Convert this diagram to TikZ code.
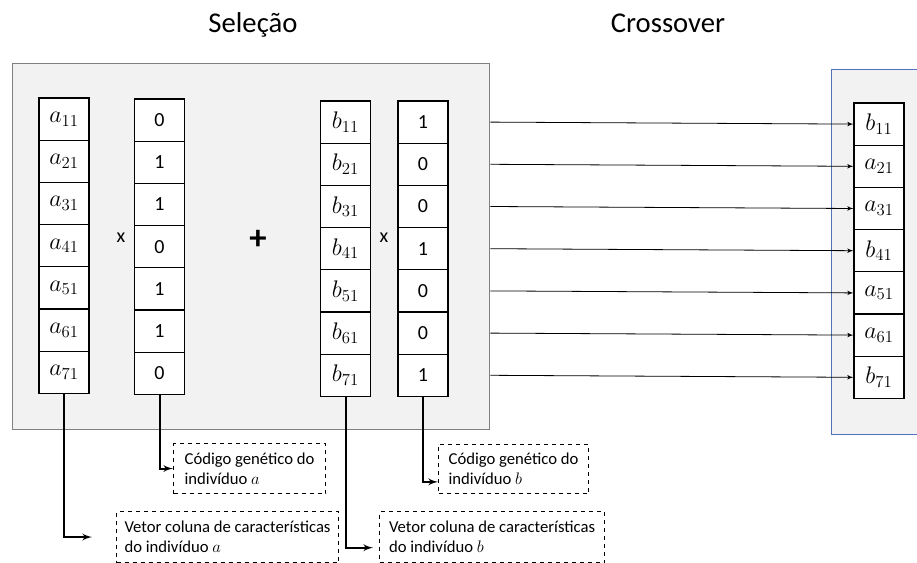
\documentclass[tikz,border=0pt]{standalone}
\usepackage{fix-cm}
\usepackage{fontspec}
\setmainfont{Carlito}
\usetikzlibrary{arrows}
\definecolor{boxfill}{HTML}{F2F2F2}
\definecolor{boxgray}{HTML}{808080}
\definecolor{boxblue}{HTML}{4F72B8}
\tikzset{
    cell/.style={draw, fill=white, line width=0.8pt, minimum width=37.5pt, minimum height=31.65pt, inner sep=0pt},
    var/.style={cell, font=\fontsize{18}{21}\selectfont},
    bit/.style={cell, font=\fontsize{15}{18}\selectfont},
    panel/.style={draw=boxgray, fill=boxfill, line width=1.1pt, anchor=north west},
    note/.style={draw, dashed, line width=0.8pt, align=left, inner sep=0pt, anchor=north west, font=\fontsize{12.5}{15}\selectfont},
    link/.style={->,> = latex', line width=1.5pt},
    pass/.style={->,> = latex', line width=0.6pt},
    title/.style={anchor=base, font=\fontsize{21.5}{26}\selectfont},
    sign/.style={font=\fontsize{15}{18}\selectfont},
}

\begin{document}
\begin{tikzpicture}[x=0.75pt, y=-0.75pt]
    \useasboundingbox (0,0) rectangle (917,563);
    \node[title] (selecao) at (253,33) {Seleção};
    \node[title] (crossover) at (668,33) {Crossover};
    \node[panel, minimum width=357.75pt, minimum height=274.5pt] (sel) at (12,63) {};
    \node[panel, draw=boxblue, line width=0.8pt, minimum width=96pt, minimum height=273.75pt] (cross) at (831,69) {};
    % colunas
    \foreach \ga/\gb/\f [count=\i] in {0/1/b, 1/0/a, 1/0/a, 0/1/b, 1/0/a, 1/0/a, 0/1/b} {
        \node[var] (a\i) at (64, {119.1+42.2*(\i-1)}) {$a_{\i1}$};
        \node[bit] (ga\i) at (159.5, {120.1+42.2*(\i-1)}) {\ga};
        \node[var] (b\i) at (345.5, {122.1+42.2*(\i-1)}) {$b_{\i1}$};
        \node[bit] (gb\i) at (423, {122.1+42.2*(\i-1)}) {\gb};
        \node[var] (f\i) at (879, {124.1+42.2*(\i-1)}) {$\f_{\i1}$};
        \draw[pass] (sel.east |- gb\i) -- (f\i.west);
    }
    \node[sign] (xa) at (121,238) {x};
    \node[sign] (xb) at (384,238) {x};
    \node[font=\fontsize{26}{30}\selectfont\bfseries] (mais) at (258,240) {+};
    % legendas
    \node[note, minimum width=114pt, minimum height=37.5pt] (coda) at (173,443) {Código genético do\\indivíduo $a$};
    \node[note, minimum width=112.5pt, minimum height=37pt] (codb) at (438,444) {Código genético do\\indivíduo $b$};
    \node[note, minimum width=166.5pt, minimum height=38.25pt] (veca) at (116,511) {Vetor coluna de características\\do indivíduo $a$};
    \node[note, minimum width=168.75pt, minimum height=38.25pt] (vecb) at (379,511) {Vetor coluna de características\\do indivíduo $b$};
    \draw[link, shorten >=18pt] (a7.south) |- (veca.west);
    \draw[link] (ga7.south) |- (coda.west);
    \draw[link, shorten >=4.5pt] (b7.south) |- ([yshift=-8pt]vecb.west);
    \draw[link] (gb7.south) |- ([yshift=-9.5pt]codb.west);
\end{tikzpicture}
\end{document}
